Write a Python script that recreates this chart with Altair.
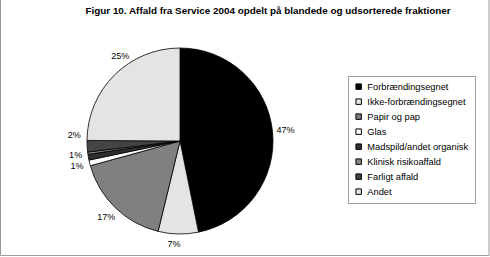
import altair as alt
import pandas as pd

# Waste fractions, service sector 2004 (percent of total)
categories = [
    "Forbrændingsegnet",
    "Ikke-forbrændingsegnet",
    "Papir og pap",
    "Glas",
    "Madspild/andet organisk",
    "Klinisk risikoaffald",
    "Farligt affald",
    "Andet",
]
shares = [47, 7, 17, 1, 1, 0.4, 2, 25]
title_text = "Figur 10. Affald fra Service 2004 opdelt på blandede og udsorterede fraktioner"

palette = ["#000000", "#e4e4e4", "#808080", "#ffffff",
           "#2e2e2e", "#8a8a8a", "#444444", "#e4e4e4"]

FONT = "Liberation Sans"
W, H = 490, 257
CX, CY, R = 180, 141, 93

# label nudges (dx, dy) in pixels for crowded or offset labels
nudges = {
    "Madspild/andet organisk": (0, -4),
    "Farligt affald": (0, -12),
    "Andet": (15, -10),
    "Ikke-forbrændingsegnet": (-4, -3),
}

df = pd.DataFrame({"fraktion": categories, "andel": shares,
                   "rk": list(range(len(categories)))})

base = alt.Chart(df).encode(
    theta=alt.Theta("andel:Q", stack=True),
    order=alt.Order("rk:Q"),
)

pie = base.mark_arc(radius=R, stroke="black", strokeWidth=0.8).encode(
    x=alt.value(CX),
    y=alt.value(CY),
    color=alt.Color(
        "fraktion:N",
        sort=categories,
        scale=alt.Scale(domain=categories, range=palette),
        legend=alt.Legend(
            title=None,
            orient="none",
            legendX=348,
            legendY=76,
            strokeColor="#a0a0a0",
            fillColor="white",
            padding=6,
            symbolType="square",
            symbolSize=30,
            symbolStrokeColor="black",
            symbolStrokeWidth=1,
            labelFont=FONT,
            labelFontSize=9.3,
            labelColor="black",
            labelOffset=4,
            rowPadding=4,
        ),
    ),
)


def label_layer(names, dx=0, dy=0):
    cond = " || ".join(f"datum.fraktion === '{n}'" for n in names)
    return base.transform_calculate(
        lbl=f"({cond}) && datum.andel >= 0.5 ? format(datum.andel, '.0f') + '%' : ''"
    ).mark_text(radius=106, font=FONT, fontSize=9, color="black", dx=dx, dy=dy).encode(
        x=alt.value(CX),
        y=alt.value(CY),
        text="lbl:N",
    )


plain = [c for c in categories if c not in nudges]
label_layers = [label_layer(plain)] + [
    label_layer([name], dx, dy) for name, (dx, dy) in nudges.items()
]

title = alt.Chart(pd.DataFrame({"t": [title_text]})).mark_text(
    font=FONT, fontSize=9.9, fontWeight="bold", color="black",
    align="center", baseline="alphabetic",
).encode(x=alt.value(268), y=alt.value(14), text="t:N")

frame = alt.Chart(pd.DataFrame({"t": [0]})).mark_rect(
    fillOpacity=0, stroke="#9a9a9a", strokeWidth=1
).encode(x=alt.value(0.5), x2=alt.value(489), y=alt.value(-2), y2=alt.value(255.5))

chart = alt.layer(frame, pie, *label_layers, title).properties(
    width=W, height=H, autosize=alt.AutoSizeParams(type="none"), padding=0,
    background="white",
).configure_view(stroke=None)

chart.save("out.html", embed_options={"renderer": "svg", "actions": False})
